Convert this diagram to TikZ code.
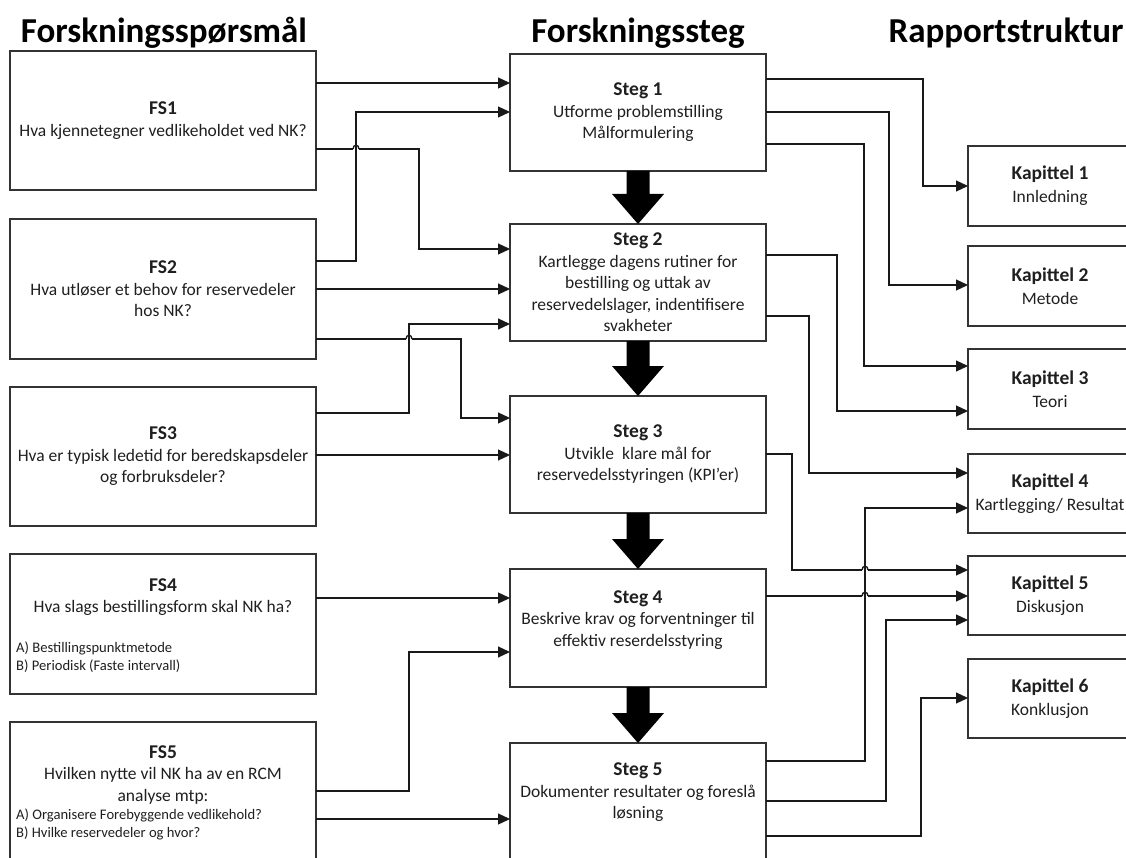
\documentclass[tikz,border=0pt]{standalone}
\usepackage{fontspec}
\setmainfont{Carlito}
\usetikzlibrary{arrows.meta,calc}
\newcommand{\boxhead}[1]{{\fontsize{19.5}{21.5}\selectfont\bfseries #1}}

\begin{document}
\begin{tikzpicture}[x=1pt,y=-1pt,
  box/.style={draw=black!80, line width=1.2pt, rectangle, inner sep=0pt, outer sep=0pt,
              align=center, text=black!88, font=\fontsize{17.5}{21.5}\selectfont},
  heading/.style={font=\fontsize{35}{40}\selectfont\bfseries, anchor=base, text=black, inner sep=0pt},
  txt/.style={align=center, inner sep=0pt, text=black!88, font=\fontsize{17.5}{21.5}\selectfont},
  small/.style={align=left, inner sep=0pt, anchor=west, text=black!88, font=\fontsize{14.6}{18}\selectfont},
  conn/.style={draw=black!90, line width=1.2pt, -{Triangle[length=12pt,width=11pt]}},
  hop/.style={draw=black!90, line width=1.4pt},
  blockarrow/.style={fill=black}
]
\useasboundingbox (0,0) rectangle (1126,858);

% column headings
\node[heading] (h1) at (164,43) {Forskningsspørsmål};
\node[heading] (h2) at (638,43) {Forskningssteg};
\node[heading] (h3) at (1006,43) {Rapportstruktur};

% research questions
\node[box, minimum width=306pt, minimum height=139pt] (fs1) at (163,120.5)
  {\boxhead{FS1}\\Hva kjennetegner vedlikeholdet ved NK?};
\node[box, minimum width=306pt, minimum height=140pt] (fs2) at (163,289)
  {\boxhead{FS2}\\Hva utløser et behov for reservedeler\\hos NK?};
\node[box, minimum width=306pt, minimum height=139pt] (fs3) at (163,456.5)
  {\boxhead{FS3}\\Hva er typisk ledetid for beredskapsdeler\\og forbruksdeler?};
\node[box, minimum width=306pt, minimum height=140pt] (fs4) at (163,624) {};
\node[txt] (fs4t) at (163,597) {\boxhead{FS4}\\Hva slags bestillingsform skal NK ha?};
\node[small] (fs4l) at (16,657) {A) Bestillingspunktmetode\\B) Periodisk (Faste intervall)};
\node[box, minimum width=306pt, minimum height=148pt] (fs5) at (163,796) {};
\node[txt] (fs5t) at (163,775) {\boxhead{FS5}\\Hvilken nytte vil NK ha av en RCM\\analyse mtp:};
\node[small] (fs5l) at (16,824.5) {A) Organisere Forebyggende vedlikehold?\\B) Hvilke reservedeler og hvor?};

% research steps
\node[box, minimum width=256pt, minimum height=117pt] (s1) at (638,112.5)
  {\boxhead{Steg 1}\\Utforme problemstilling\\Målformulering};
\node[box, minimum width=256pt, minimum height=117pt] (s2) at (638,282.5)
  {\boxhead{Steg 2}\\Kartlegge dagens rutiner for\\bestilling og uttak av\\reservedelslager, indentifisere\\svakheter};
\node[box, minimum width=256pt, minimum height=117pt] (s3) at (638,454.5)
  {\boxhead{Steg 3}\\Utvikle\ \ klare mål for\\reservedelsstyringen (KPI’er)};
\node[box, minimum width=256pt, minimum height=118pt] (s4) at (638,628) {};
\node[txt] (s4t) at (638,620) {\boxhead{Steg 4}\\Beskrive krav og forventninger til\\effektiv reserdelsstyring};
\node[box, minimum width=256pt, minimum height=130pt] (s5) at (638,808) {};
\node[txt] (s5t) at (638,792.5) {\boxhead{Steg 5}\\Dokumenter resultater og foreslå\\løsning};

% report chapters
\tikzset{kap/.style={box, minimum width=164pt, font=\fontsize{17.5}{23}\selectfont}}
\node[kap, minimum height=80pt] (k1) at (1050,186)   {\boxhead{Kapittel 1}\\Innledning};
\node[kap, minimum height=80pt] (k2) at (1050,286)   {\boxhead{Kapittel 2}\\Metode};
\node[kap, minimum height=80pt] (k3) at (1050,389)   {\boxhead{Kapittel 3}\\Teori};
\node[kap, minimum height=79pt] (k4) at (1050,493.5) {\boxhead{Kapittel 4}\\Kartlegging/ Resultat};
\node[kap, minimum height=79pt] (k5) at (1050,595.5) {\boxhead{Kapittel 5}\\Diskusjon};
\node[kap, minimum height=79pt] (k6) at (1050,698.5) {\boxhead{Kapittel 6}\\Konklusjon};

% flow between the steps
\foreach \a/\b in {s1/s2, s2/s3, s3/s4, s4/s5}{
  \fill[blockarrow] let \p1=(\a.south), \p2=(\b.north) in
    (\x1-11.5pt,\y1) -- (\x1+11.5pt,\y1) -- (\x1+11.5pt,\y2+30pt) -- (\x1+26pt,\y2+30pt)
    -- (\x2,\y2) -- (\x1-26pt,\y2+30pt) -- (\x1-11.5pt,\y2+30pt) -- cycle;
}

% questions -> steps (a gap is left where a line jumps over another)
\draw[conn] (fs1.east |- 0,83) -- (s1.west |- 0,83);
\draw[conn] (fs1.east |- 0,149) -- (353,149) (359,149)
  -- (419,149) -- (419,249) -- (s2.west |- 0,249);
\draw[conn] (fs2.east |- 0,261) -- (356,261) -- (356,112) -- (s1.west |- 0,112);
\draw[conn] (fs2.east |- 0,289) -- (s2.west |- 0,289);
\draw[conn] (fs2.east |- 0,339) -- (406,339) (412,339)
  -- (461,339) -- (461,418) -- (s3.west |- 0,418);
\draw[conn] (fs3.east |- 0,413) -- (409,413) -- (409,324) -- (s2.west |- 0,324);
\draw[conn] (fs3.east |- 0,455) -- (s3.west |- 0,455);
\draw[conn] (fs4.east |- 0,598) -- (s4.west |- 0,598);
\draw[conn] (fs5.east |- 0,791) -- (409,791) -- (409,652) -- (s4.west |- 0,652);
\draw[conn] (fs5.east |- 0,819) -- (s5.west |- 0,819);

% steps -> chapters
\draw[conn] (s1.east |- 0,79)  -- (923,79)  -- (923,186) -- (k1.west |- 0,186);
\draw[conn] (s1.east |- 0,112) -- (889,112) -- (889,285) -- (k2.west |- 0,285);
\draw[conn] (s1.east |- 0,144) -- (864,144) -- (864,366) -- (k3.west |- 0,366);
\draw[conn] (s2.east |- 0,255) -- (837,255) -- (837,411) -- (k3.west |- 0,411);
\draw[conn] (s2.east |- 0,316) -- (809,316) -- (809,473) -- (k4.west |- 0,473);
\draw[conn] (s3.east |- 0,454) -- (792,454) -- (792,570) -- (862,570)
  (868,570) -- (k5.west |- 0,570);
\draw[conn] (s4.east |- 0,596) -- (862,596) (868,596) -- (k5.west |- 0,596);
\draw[conn] (s5.east |- 0,761) -- (865,761) -- (865,508) -- (k4.west |- 0,508);
\draw[conn] (s5.east |- 0,801) -- (886,801) -- (886,620) -- (k5.west |- 0,620);
\draw[conn] (s5.east |- 0,836) -- (921,836) -- (921,698) -- (k6.west |- 0,698);

% the hops themselves
\draw[hop] (353,149) .. controls (353,144) and (359,144) .. (359,149);
\draw[hop] (406,339) .. controls (406,334) and (412,334) .. (412,339);
\draw[hop] (862,570) .. controls (862,565) and (868,565) .. (868,570);
\draw[hop] (862,596) .. controls (862,591) and (868,591) .. (868,596);
\end{tikzpicture}
\end{document}
